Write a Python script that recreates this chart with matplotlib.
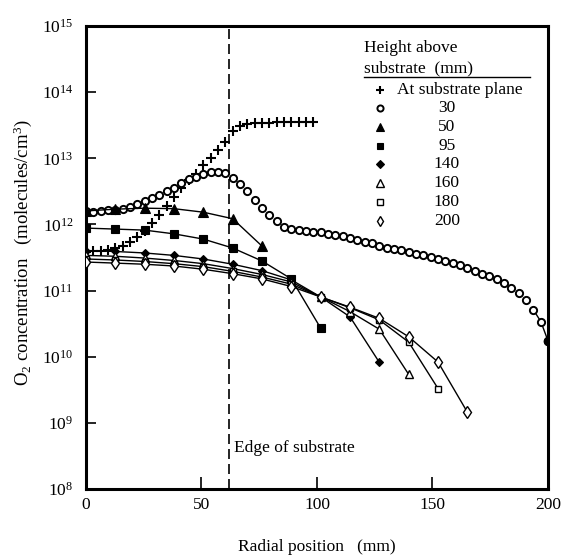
import matplotlib
matplotlib.use("Agg")
import matplotlib.pyplot as plt

plt.rcParams['font.family'] = ['Liberation Serif', 'DejaVu Serif']
plt.rcParams['mathtext.fontset'] = 'custom'
plt.rcParams['mathtext.rm'] = 'Liberation Serif'
plt.rcParams['mathtext.it'] = 'Liberation Serif:italic'
plt.rcParams['mathtext.bf'] = 'Liberation Serif:bold'

# radial positions (mm): 1/8 inch grid for dense scans, 1/2 inch grid for the rest
radial_fine = [0.0, 3.2, 6.4, 9.5, 12.7, 15.9, 19.1, 22.2, 25.4, 28.6,
               31.8, 34.9, 38.1, 41.3, 44.5, 47.6, 50.8, 54.0, 57.2, 60.3,
               63.5, 66.7, 69.9, 73.0, 76.2, 79.4, 82.6, 85.7, 88.9, 92.1,
               95.3, 98.4, 101.6, 104.8, 108.0, 111.1, 114.3, 117.5, 120.7, 123.8,
               127.0, 130.2, 133.4, 136.5, 139.7, 142.9, 146.1, 149.2, 152.4, 155.6,
               158.8, 161.9, 165.1, 168.3, 171.5, 174.6, 177.8, 181.0, 184.2, 187.3,
               190.5, 193.7, 196.9, 200.0]
radial_coarse = [0.0, 12.7, 25.4, 38.1, 50.8, 63.5, 76.2, 88.9, 101.6, 114.3,
                 127.0, 139.7, 152.4, 165.1]

plane = [3.8e11, 3.9e11, 3.9e11, 4.1e11, 4.45e11, 4.8e11, 5.4e11, 6.4e11, 7.9e11, 1.05e12,
         1.4e12, 1.9e12, 2.6e12, 3.6e12, 4.7e12, 5.8e12, 7.8e12, 1.02e13, 1.35e13, 1.75e13,
         2.55e13, 3.1e13, 3.3e13, 3.4e13, 3.45e13, 3.45e13, 3.5e13, 3.5e13, 3.5e13, 3.5e13,
         3.5e13, 3.5e13]

h30 = [1.57e12, 1.55e12, 1.57e12, 1.63e12, 1.67e12, 1.73e12, 1.82e12, 2.05e12, 2.25e12, 2.5e12,
       2.8e12, 3.2e12, 3.6e12, 4.2e12, 4.8e12, 5.3e12, 5.8e12, 6.1e12, 6.3e12, 5.9e12,
       5.1e12, 4.15e12, 3.15e12, 2.35e12, 1.75e12, 1.38e12, 1.11e12, 9.2e11, 8.5e11, 8.1e11,
       7.9e11, 7.8e11, 7.6e11, 7.2e11, 7.0e11, 6.6e11, 6.3e11, 5.9e11, 5.5e11, 5.2e11,
       4.8e11, 4.45e11, 4.2e11, 4.05e11, 3.8e11, 3.6e11, 3.4e11, 3.2e11, 3.0e11, 2.8e11,
       2.6e11, 2.4e11, 2.2e11, 2.0e11, 1.8e11, 1.65e11, 1.5e11, 1.3e11, 1.09e11, 9.2e10,
       7.1e10, 5.1e10, 3.4e10, 1.74e10]

h50 = [1.6e12, 1.7e12, 1.76e12, 1.73e12, 1.53e12, 1.22e12, 4.7e11]
h95 = [8.8e11, 8.5e11, 8.2e11, 7.2e11, 6.0e11, 4.4e11, 2.8e11, 1.5e11, 2.7e10]
h140 = [4.0e11, 3.9e11, 3.7e11, 3.4e11, 3.0e11, 2.5e11, 2.0e11, 1.45e11, 8.0e10, 4.0e10, 8.2e9]
h160 = [3.4e11, 3.3e11, 3.1e11, 2.85e11, 2.55e11, 2.15e11, 1.75e11, 1.35e11, 8.0e10, 4.8e10,
        2.6e10, 5.4e9]
h180 = [3.0e11, 2.9e11, 2.75e11, 2.55e11, 2.3e11, 1.95e11, 1.6e11, 1.25e11, 8.0e10, 5.5e10,
        3.6e10, 1.66e10, 3.3e9]
h200 = [2.7e11, 2.6e11, 2.5e11, 2.35e11, 2.1e11, 1.8e11, 1.5e11, 1.15e11, 8.0e10, 5.6e10,
        3.8e10, 2.0e10, 8.3e9, 1.45e9]

substrate_edge = 62.0
legend_labels = ['At substrate plane', '30', '50', '95', '140', '160', '180', '200']

fig = plt.figure(figsize=(5.61, 5.58), dpi=100)
ax = fig.add_axes([0.1533, 0.1237, 0.8235, 0.8297])

styles = [
    dict(marker='+', ms=7.5, mew=1.5, mfc='black', ls='none'),
    dict(marker='o', ms=5.2, mew=1.4, mfc='white', ls='none'),
    dict(marker='^', ms=7, mew=0.8, mfc='black', ls='-'),
    dict(marker='s', ms=5.5, mew=0.8, mfc='black', ls='-'),
    dict(marker='D', ms=4.5, mew=0.8, mfc='black', ls='-'),
    dict(marker='^', ms=6, mew=1.0, mfc='white', ls='-'),
    dict(marker='s', ms=5, mew=1.0, mfc='white', ls='-'),
    dict(marker='d', ms=6.5, mew=1.0, mfc='white', ls='-'),
]

series = [
    (radial_fine[:len(plane)], plane),
    (radial_fine, h30),
    (radial_coarse[:len(h50)], h50),
    (radial_coarse[:len(h95)], h95),
    (radial_coarse[:len(h140)], h140),
    (radial_coarse[:len(h160)], h160),
    (radial_coarse[:len(h180)], h180),
    (radial_coarse[:len(h200)], h200),
]

for (xs, ys), st in zip(series, styles):
    ax.plot(xs, ys, color='black', mec='black', lw=1.0, zorder=3, **st)

# last few points of the 30 mm scan are joined, end point filled
ax.plot(radial_fine[-3:], h30[-3:], color='black', lw=1.0, zorder=2)
ax.plot(radial_fine[-1], h30[-1], marker='o', ms=6, color='black', zorder=4)

ax.axvline(substrate_edge, color='black', ls=(0, (6, 3)), lw=1.2, zorder=1)
ax.text(substrate_edge + 2, 4.2e8, 'Edge of substrate', fontsize=12.5, va='center', ha='left')

ax.set_xlim(0, 200)
ax.set_yscale('log')
ax.set_ylim(1e8, 1e15)
ax.set_xticks([0, 50, 100, 150, 200])
ax.set_xticklabels(['0', '50', '100', '150', '200'])
decades = list(range(8, 16))
ax.set_yticks([10.0 ** d for d in decades])
ax.set_yticklabels(['$10^{%d}$' % d for d in decades])
ax.minorticks_off()
ax.tick_params(axis='both', direction='in', labelsize=12.5, width=1.2, colors='black')
ax.tick_params(axis='x', length=9, pad=6)
ax.tick_params(axis='y', length=7, pad=9)
for sp in ax.spines.values():
    sp.set_linewidth(2.2)

fig.text(0.5 * (86 + 548) / 561, 0.02, 'Radial position   (mm)', fontsize=12.5, ha='center', va='center')
fig.text(0.041, 0.547, 'O$_2$ concentration   (molecules/cm$^3$)', fontsize=13.5,
         rotation=90, ha='center', va='center')

# legend, drawn by hand
tr = ax.transAxes
ax.text(0.602, 0.9525, 'Height above', transform=tr, fontsize=12.5, ha='left', va='center')
ax.text(0.602, 0.909, 'substrate  (mm)', transform=tr, fontsize=12.5, ha='left', va='center')
ax.plot([0.602, 0.961], [0.889, 0.889], transform=tr, color='black', lw=1.0)
rows = [0.862, 0.823, 0.782, 0.741, 0.702, 0.661, 0.620, 0.579]
for i, (lab, st, yr) in enumerate(zip(legend_labels, styles, rows)):
    mst = dict(st)
    mst['ls'] = 'none'
    mst['ms'] = st['ms'] * 0.85
    ax.plot([0.636], [yr], transform=tr, color='black', mec='black', **mst)
    if i == 0:
        ax.text(0.673, yr, lab, transform=tr, fontsize=12.5, ha='left', va='center')
    else:
        ax.text(0.781, yr, lab, transform=tr, fontsize=12.5, ha='center', va='center')

fig.savefig('out.png', dpi=100)
